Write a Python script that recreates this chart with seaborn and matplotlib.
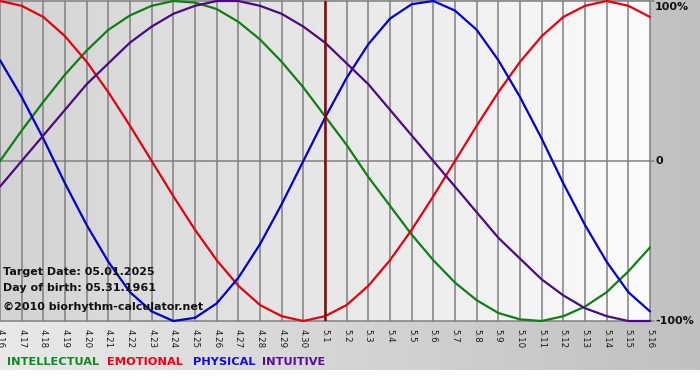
import matplotlib
matplotlib.use("Agg")
import matplotlib.pyplot as plt
import seaborn as sns
import pandas as pd
import numpy as np

# day labels along the bottom
days = ["4.16", "4.17", "4.18", "4.19", "4.20", "4.21", "4.22", "4.23", "4.24", "4.25",
        "4.26", "4.27", "4.28", "4.29", "4.30", "5.1", "5.2", "5.3", "5.4", "5.5",
        "5.6", "5.7", "5.8", "5.9", "5.10", "5.11", "5.12", "5.13", "5.14", "5.15", "5.16"]

# cycle values per day (-1 .. 1)
intellectual = [0.0, 0.19, 0.37, 0.54, 0.69, 0.82, 0.91, 0.97, 1.0, 0.99,
                0.95, 0.87, 0.76, 0.62, 0.46, 0.28, 0.1, -0.1, -0.28, -0.46,
                -0.62, -0.76, -0.87, -0.95, -0.99, -1.0, -0.97, -0.91, -0.82, -0.69, -0.54]
emotional = [1.0, 0.97, 0.9, 0.78, 0.62, 0.43, 0.22, 0.0, -0.22, -0.43,
             -0.62, -0.78, -0.9, -0.97, -1.0, -0.97, -0.9, -0.78, -0.62, -0.43,
             -0.22, 0.0, 0.22, 0.43, 0.62, 0.78, 0.9, 0.97, 1.0, 0.97, 0.9]
physical = [0.63, 0.4, 0.14, -0.14, -0.4, -0.63, -0.82, -0.94, -1.0, -0.98,
            -0.89, -0.73, -0.52, -0.27, 0.0, 0.27, 0.52, 0.73, 0.89, 0.98,
            1.0, 0.94, 0.82, 0.63, 0.4, 0.14, -0.14, -0.4, -0.63, -0.82, -0.94]
intuitive = [-0.16, 0.0, 0.16, 0.32, 0.48, 0.61, 0.74, 0.84, 0.92, 0.97,
             1.0, 1.0, 0.97, 0.92, 0.84, 0.74, 0.61, 0.48, 0.32, 0.16,
             0.0, -0.16, -0.32, -0.48, -0.61, -0.74, -0.84, -0.92, -0.97, -1.0, -1.0]

target_day = "5.1"
info_lines = ["Target Date: 05.01.2025", "Day of birth: 05.31.1961"]
credit = "\u00a92010 biorhythm-calculator.net"

names = ["INTELLECTUAL", "EMOTIONAL", "PHYSICAL", "INTUITIVE"]
line_colors = {"INTELLECTUAL": "#0f7f14", "EMOTIONAL": "#e3000f",
               "PHYSICAL": "#0000cc", "INTUITIVE": "#4b0a82"}
legend_colors = {"INTELLECTUAL": "#0c8a1e", "EMOTIONAL": "#f0001a",
                 "PHYSICAL": "#1010d0", "INTUITIVE": "#5a0a9a"}

rows = []
for name, vals in zip(names, [intellectual, emotional, physical, intuitive]):
    for i, v in enumerate(vals):
        rows.append({"day": i, "value": v, "cycle": name})
df = pd.DataFrame(rows)

sns.set_style("white")
plt.rcParams["font.family"] = ["DejaVu Sans"]

W, H = 700, 380
fig = plt.figure(figsize=(7, 3.8), dpi=100)
fig.patch.set_facecolor("white")

# gray band behind labels (right column and bottom strip)
bg = fig.add_axes([0, 10 / H, 1, 1 - 10 / H])
grad = np.linspace(0, 1, 256)[None, :]
bg.imshow(grad, cmap=matplotlib.colors.LinearSegmentedColormap.from_list(
    "bg", ["#e9e9e9", "#c0c0c0"]), aspect="auto", extent=[0, 1, 0, 1])
bg.set_axis_off()

plot_w = 650
ax = fig.add_axes([0, (H - 321) / H, plot_w / W, 320 / H])
ax.set_xlim(0, len(days) - 1)
ax.set_ylim(-1, 1)
ax.imshow(grad, cmap=matplotlib.colors.LinearSegmentedColormap.from_list(
    "pl", ["#d3d3d3", "#fcfcfc"]), aspect="auto",
    extent=[0, len(days) - 1, -1, 1], zorder=0)

for i in range(len(days)):
    ax.axvline(i, color="#808080", lw=1.1, zorder=1, clip_on=False)
for yv in (-1, 0, 1):
    ax.axhline(yv, color="#808080", lw=1.1, xmax=1.006, zorder=1, clip_on=False)

sns.lineplot(data=df, x="day", y="value", hue="cycle", hue_order=names,
             palette=line_colors, linewidth=1.6, legend=False, ax=ax, zorder=3)
for ln in ax.get_lines()[-4:]:
    ln.set_clip_on(False)

ax.axvline(days.index(target_day), color="#7a0c0c", lw=1.8, zorder=4)

ax.set_xticks(range(len(days)))
ax.set_xticklabels(days, rotation=-90, fontsize=6.2, color="#1a1a1a")
ax.tick_params(axis="x", length=4, width=1, color="#808080", pad=1.5)
ax.set_yticks([])
ax.set_xlabel("")
ax.set_ylabel("")
for s in ax.spines.values():
    s.set_visible(False)
ax.set_facecolor("none")

# info text inside the plot
for txt, ypx in zip(info_lines, [272, 288]):
    fig.text(3 / W, 1 - ypx / H, txt, fontsize=8.0, fontweight="bold",
             color="#111111", va="center", ha="left")
fig.text(3 / W, 1 - 307 / H, credit, fontsize=8.0, fontweight="bold",
         color="#111111", va="center", ha="left")

# right side percent labels
for lab, ypx in zip(["100%", "0", "-100%"], [7, 161, 321]):
    fig.text(655 / W, 1 - ypx / H, lab, fontsize=8.0, fontweight="bold",
             color="#111111", va="center", ha="left")

# colored legend words at the bottom
for name, xpx in zip(names, [7, 107, 193, 262]):
    fig.text(xpx / W, 1 - 362 / H, name, fontsize=8.2, fontweight="bold",
             color=legend_colors[name], va="center", ha="left")

fig.savefig("out.png", dpi=100)
